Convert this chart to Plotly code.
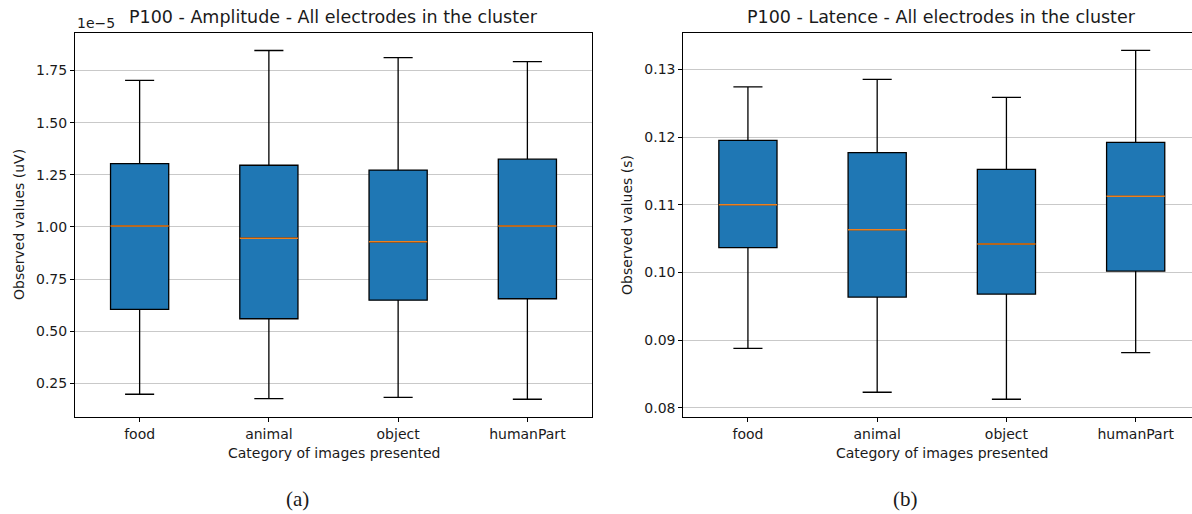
import plotly.graph_objects as go

# Image categories shown on both panels
categories = ["food", "animal", "object", "humanPart"]
positions = [1, 2, 3, 4]

# P100 amplitude (V): whisker ends, quartiles and medians per category
amp_low = [0.198e-5, 0.177e-5, 0.183e-5, 0.174e-5]
amp_q1 = [0.605e-5, 0.560e-5, 0.649e-5, 0.656e-5]
amp_med = [1.005e-5, 0.946e-5, 0.929e-5, 1.005e-5]
amp_q3 = [1.304e-5, 1.296e-5, 1.273e-5, 1.325e-5]
amp_high = [1.703e-5, 1.846e-5, 1.812e-5, 1.793e-5]

# P100 latency (s)
lat_low = [0.08876, 0.08228, 0.08124, 0.08812]
lat_q1 = [0.10365, 0.09635, 0.09679, 0.10019]
lat_med = [0.1100, 0.1063, 0.10419, 0.11123]
lat_q3 = [0.1195, 0.1177, 0.11522, 0.1192]
lat_high = [0.1274, 0.12852, 0.12586, 0.1328]

amp_ticks = [0.25e-5, 0.50e-5, 0.75e-5, 1.00e-5, 1.25e-5, 1.50e-5, 1.75e-5]
amp_ticktext = ["0.25", "0.50", "0.75", "1.00", "1.25", "1.50", "1.75"]
lat_ticks = [0.08, 0.09, 0.10, 0.11, 0.12, 0.13]

BOX_W = 0.45
BLUE = "#1f77b4"
ORANGE = "#f07f1a"
FONT = "DejaVu Sans"
TXT = "#1a1a1a"
TICK_SIZE = 14
TITLE_SIZE = 17.5

W, H = 1192, 514


def px_x(p):
    return p / W


def px_y(p):
    return 1 - p / H


fig = go.Figure()


def add_panel(fig, xa, ya, low, q1, med, q3, high):
    fig.add_trace(go.Box(
        x=positions, q1=q1, median=med, q3=q3,
        lowerfence=low, upperfence=high,
        width=BOX_W, whiskerwidth=0.5,
        fillcolor=BLUE, line=dict(color="black", width=1.3),
        boxpoints=False, xaxis=xa, yaxis=ya, hoverinfo="skip",
    ))
    mx, my = [], []
    for p, m in zip(positions, med):
        mx += [p - BOX_W / 2, p + BOX_W / 2, None]
        my += [m, m, None]
    fig.add_trace(go.Scatter(
        x=mx, y=my, mode="lines", line=dict(color=ORANGE, width=1.5),
        xaxis=xa, yaxis=ya, hoverinfo="skip",
    ))


add_panel(fig, "x", "y", amp_low, amp_q1, amp_med, amp_q3, amp_high)
add_panel(fig, "x2", "y2", lat_low, lat_q1, lat_med, lat_q3, lat_high)

ydom = [px_y(417), px_y(33)]
unit = (592 - 75) / 4.0

common_x = dict(
    tickvals=positions, ticktext=categories, ticks="outside", ticklen=4,
    tickcolor="black", tickwidth=1, showline=True, linecolor="black",
    linewidth=1, mirror=True, showgrid=False, zeroline=False,
    tickfont=dict(family=FONT, size=TICK_SIZE, color=TXT),
)
common_y = dict(
    ticks="outside", ticklen=4, tickcolor="black", tickwidth=1,
    showline=True, linecolor="black", linewidth=1, mirror=True,
    showgrid=True, gridcolor="#c9c9c9", gridwidth=1, zeroline=False,
    tickfont=dict(family=FONT, size=TICK_SIZE, color=TXT), domain=ydom,
)

fig.update_layout(
    width=W, height=H, margin=dict(l=0, r=0, t=0, b=0),
    plot_bgcolor="white", paper_bgcolor="white", showlegend=False,
    xaxis=dict(domain=[px_x(75), px_x(592)], range=[0.5, 4.5], anchor="y", **common_x),
    xaxis2=dict(domain=[px_x(683.3), 1.0],
                range=[0.5, 0.5 + (W - 683.3) / unit], anchor="y2", **common_x),
    yaxis=dict(range=[0.089e-5, 1.930e-5], tickvals=amp_ticks,
               ticktext=amp_ticktext, anchor="x", **common_y),
    yaxis2=dict(range=[0.07862, 0.13537], tickvals=lat_ticks,
                tickformat=".2f", anchor="x2", **common_y),
)

ann = []


def text(x, y, s, size, rot=0, family=FONT, xanchor="center"):
    ann.append(dict(x=px_x(x), y=px_y(y), xref="paper", yref="paper",
                    text=s, showarrow=False, textangle=rot,
                    xanchor=xanchor, yanchor="middle",
                    font=dict(family=family, size=size, color=TXT)))


left_c = (75 + 592) / 2
right_c = 683.3 + unit * 2

text(left_c, 17, "P100 - Amplitude - All electrodes in the cluster", TITLE_SIZE)
text(right_c, 17, "P100 - Latence - All electrodes in the cluster", TITLE_SIZE)
text(75, 23, "1e\u22125", TICK_SIZE, xanchor="left")
text(19, 225, "Observed values (uV)", TICK_SIZE, rot=-90)
text(627, 225, "Observed values (s)", TICK_SIZE, rot=-90)
text(left_c, 453, "Category of images presented", TICK_SIZE)
text(right_c, 453, "Category of images presented", TICK_SIZE)
text(297, 499, "(a)", 21, family="Liberation Serif")
text(905, 499, "(b)", 21, family="Liberation Serif")

fig.update_layout(annotations=ann)

fig.write_html("out.html")
